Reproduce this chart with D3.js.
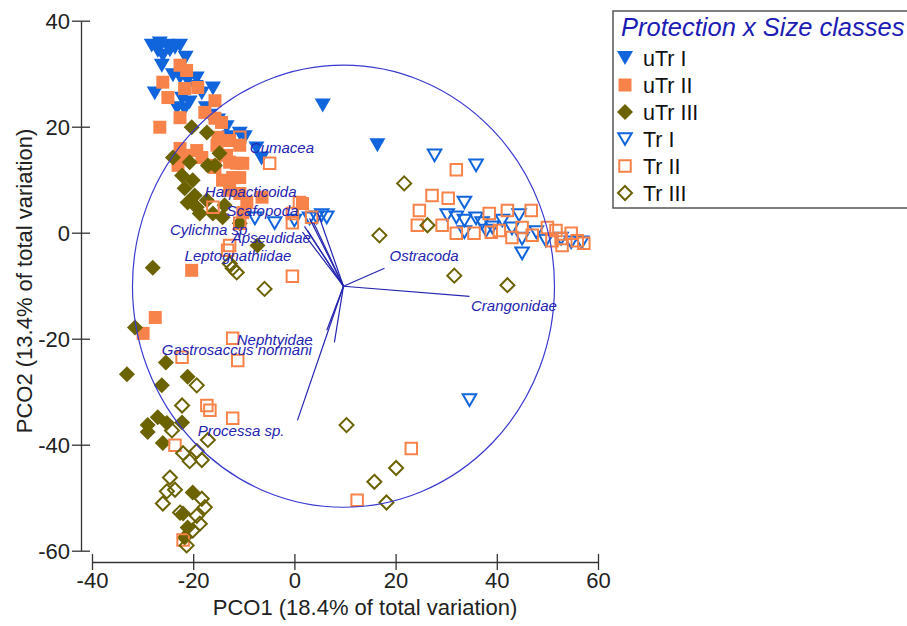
<!DOCTYPE html>
<html lang="en">
<head>
  <meta charset="utf-8">
  <script src="https://cdn.jsdelivr.net/npm/d3@7"></script>
</head>
<style>
  body{margin:0;background:#fff;}
  text{font-family:"Liberation Sans",Arial,sans-serif;}
</style>
<body>
  <div id="chart"></div>
  <script type="text/javascript">
    // PCO scores, [PCO1, PCO2]
    var uTrI=[[-28.2,35.3],[-26.6,35.7],[-25.2,35.3],[-23.6,34.9],[-22.6,35.3],[-27.0,34.3],[-26.0,33.4],[-24.6,34.4],
      [-21.5,33.0],[-26.2,31.5],[-24.0,29.7],[-22.6,29.3],[-21.1,28.7],[-19.3,29.1],[-27.6,26.3],[-22.2,25.3],
      [-20.7,24.6],[-18.3,26.3],[-16.1,27.2],[-19.5,27.5],[-23.2,23.5],[-21.7,23.3],[-17.5,23.5],[-16.7,22.1],
      [-15.1,21.2],[-13.4,19.9],[-12.8,18.0],[-10.8,18.7],[-9.8,18.0],[-7.5,15.9],[-6.5,14.0],[5.6,24.0],[16.4,16.5]];
    var uTrII=[[-22.6,31.6],[-21.3,30.6],[-26.0,28.4],[-25.0,25.5],[-21.7,27.2],[-19.1,27.4],[-22.6,21.7],[-26.6,19.9],
      [-15.7,24.9],[-17.7,22.7],[-15.7,21.6],[-14.4,20.8],[-15.1,18.0],[-12.8,17.4],[-10.8,16.5],[-21.7,14.6],
      [-18.3,14.2],[-12.8,13.3],[-10.2,13.1],[-23.0,12.7],[-16.3,12.7],[-22.6,15.9],[-19.3,15.5],[-15.3,16.5],
      [-13.4,14.6],[-11.4,13.1],[-15.7,12.3],[-14.2,9.9],[-12.2,10.4],[-10.8,10.4],[-12.8,8.0],[-10.8,7.4],
      [-9.4,5.7],[-10.2,3.8],[-6.4,6.7],[1.6,5.5],[-20.3,-7.1],[-27.5,-16.0],[-29.9,-19.0]];
    var uTrIII=[[-20.3,19.9],[-17.3,18.9],[-24.0,14.2],[-20.7,13.3],[-14.8,15.0],[-17.1,12.7],[-15.7,12.7],[-22.2,10.8],
      [-20.1,9.9],[-21.7,8.4],[-19.7,7.0],[-21.1,5.7],[-19.3,4.8],[-17.3,6.1],[-16.1,3.6],[-14.2,2.9],[-18.7,3.6],
      [-13.8,5.2],[-10.8,1.8],[-7.3,-2.4],[-28.0,-6.6],[-31.5,-17.9],[-33.1,-26.7],[-25.4,-24.5],[-21.1,-27.2],
      [-26.2,-28.8],[-27.0,-34.8],[-29.0,-36.3],[-25.2,-35.9],[-22.2,-35.8],[-26.0,-39.7],[-29.0,-37.6],
      [-20.1,-49.0],[-22.0,-53.0],[-21.1,-55.6],[-21.7,-57.5]];
    var TrI=[[-7.8,2.7],[-3.9,1.8],[0.0,2.3],[3.0,2.7],[4.4,2.9],[5.4,3.3],[6.4,2.9],[27.7,14.6],[35.9,12.7],
      [33.6,5.7],[30.2,3.3],[32.0,2.9],[33.6,2.3],[35.9,2.7],[37.1,1.8],[39.1,1.0],[41.1,2.3],[44.4,3.3],
      [43.0,0.8],[45.0,-1.1],[47.8,0.1],[49.7,-1.5],[45.0,-3.9],[52.7,-1.1],[54.7,-1.8],[56.8,-1.8],
      [33.6,0.1],[37.9,0.4],[34.6,-31.6]];
    var TrII=[[-10.8,18.0],[-4.9,13.1],[-16.1,4.8],[-10.8,1.8],[-12.8,-2.4],[-0.4,1.9],[-0.4,-8.2],[1.0,5.7],
      [-0.4,3.6],[3.4,2.9],[-13.2,-3.3],[-12.2,-19.9],[-11.2,-24.1],[-22.2,-23.5],[-17.3,-32.6],[-16.7,-33.5],
      [-12.2,-35.0],[-23.6,-40.1],[-22.0,-58.0],[23.1,-40.7],[12.4,-50.5],
      [32.0,11.9],[27.2,7.0],[30.4,6.5],[24.7,4.2],[24.3,1.4],[29.2,1.4],[32.0,-0.1],[35.5,-0.1],[38.5,3.6],
      [42.1,4.2],[46.8,4.2],[38.9,0.1],[40.5,0.4],[43.0,-0.9],[45.0,1.0],[47.0,-0.5],[50.0,1.0],[51.7,0.4],
      [52.7,-1.1],[54.7,-0.1],[55.9,-1.5],[57.2,-2.0],[50.9,-1.5],[52.9,-2.4]];
    var TrIII=[[-12.8,-5.8],[-12.2,-6.7],[-11.4,-7.5],[-5.9,-10.6],[-19.3,-28.8],[-22.2,-32.6],[-17.1,-39.1],
      [-24.2,-37.3],[-22.0,-41.6],[-19.3,-41.2],[-20.7,-43.1],[-18.3,-42.9],[-24.6,-46.2],[-23.6,-48.5],
      [-25.2,-48.8],[-26.0,-51.1],[-18.3,-50.2],[-17.7,-51.8],[-22.6,-52.8],[-19.3,-53.4],[-18.7,-54.9],
      [-20.1,-56.2],[-21.3,-59.0],[16.8,-0.5],[31.6,-8.1],[10.3,-36.3],[20.1,-44.4],[15.8,-47.0],[18.2,-50.9],
      [21.7,9.3],[26.3,1.4],[42.1,-9.9]];

    // vector overlay
    var vectorOrigin=[9.7,-10.1];
    var circleRadius=41.7;
    var vectorNames=["Cumacea","Harpacticoida","Scafopoda","Cylichna sp.","Apseudidae","Leptognathiidae",
      "Ostracoda","Crangonidae","Nephtyidae","Gastrosaccus normani","Processa sp."];
    var vectorEnds=[[4.6,3.8],[3.0,2.7],[3.8,1.9],[2.0,1.2],[2.6,0.4],[1.6,0.1],
      [17.8,-6.7],[34.6,-12.0],[6.4,-18.4],[7.9,-20.7],[0.6,-35.4]];
    var labelPos=[[-8.8,15.1],[-17.7,6.7],[-13.4,3.1],[-24.6,-0.5],[-12.4,-2.0],[-21.7,-5.4],
      [18.8,-5.4],[34.9,-14.7],[-11.4,-21.2],[-26.2,-23.1],[-19.1,-38.4]];

    var xTicks=[-40,-20,0,20,40,60];
    var yTicks=[-60,-40,-20,0,20,40];
    var legendTitle="Protection x Size classes";

    var blue="#1064dc", orange="#f8834a", olive="#6b6200";
    var vecColor="#2424b0";

    var series=[
      {name:"uTr I",data:uTrI,shape:"tri",color:blue,filled:true},
      {name:"uTr II",data:uTrII,shape:"sq",color:orange,filled:true},
      {name:"uTr III",data:uTrIII,shape:"dia",color:olive,filled:true},
      {name:"Tr I",data:TrI,shape:"tri",color:blue,filled:false},
      {name:"Tr II",data:TrII,shape:"sq",color:orange,filled:false},
      {name:"Tr III",data:TrIII,shape:"dia",color:olive,filled:false}
    ];

    var width=907, height=626;

    var svg=d3.select("#chart")
      .append("svg")
      .attr("width",width)
      .attr("height",height);

    var x=d3.scaleLinear().domain([-40,60]).range([92,598]);
    var y=d3.scaleLinear().domain([-60,40]).range([550.7,20.7]);

    function shapePath(shape,filled){
      if(shape=="tri"){
        var s=filled?16:13.5, h=s*0.866;
        return "M"+(-s/2)+","+(-h/2)+"L"+(s/2)+","+(-h/2)+"L0,"+(h/2)+"Z";
      }
      if(shape=="sq"){
        var s=filled?13:11.5;
        return "M"+(-s/2)+","+(-s/2)+"h"+s+"v"+s+"h"+(-s)+"Z";
      }
      var r=filled?8:7;
      return "M0,"+(-r)+"L"+r+",0L0,"+r+"L"+(-r)+",0Z";
    }

    //Points
    series.forEach(function(s){
      svg.append("g")
        .selectAll("path")
        .data(s.data)
        .enter()
        .append("path")
        .attr("d",shapePath(s.shape,s.filled))
        .attr("transform",function(d){return "translate("+x(d[0])+","+y(d[1])+")";})
        .attr("fill",s.filled?s.color:"none")
        .attr("stroke",s.filled?"none":s.color)
        .attr("stroke-width",2);
    });

    //Correlation circle
    svg.append("ellipse")
      .attr("cx",x(vectorOrigin[0]))
      .attr("cy",y(vectorOrigin[1]))
      .attr("rx",x(vectorOrigin[0]+circleRadius)-x(vectorOrigin[0]))
      .attr("ry",y(vectorOrigin[1])-y(vectorOrigin[1]+circleRadius))
      .attr("fill","none")
      .attr("stroke","#3a3ad0")
      .attr("stroke-width",1.2);

    svg.append("g")
      .selectAll("line")
      .data(vectorEnds)
      .enter()
      .append("line")
      .attr("x1",x(vectorOrigin[0]))
      .attr("y1",y(vectorOrigin[1]))
      .attr("x2",function(d){return x(d[0]);})
      .attr("y2",function(d){return y(d[1]);})
      .attr("stroke",vecColor)
      .attr("stroke-width",1.2);

    svg.append("g")
      .selectAll("text")
      .data(vectorNames)
      .enter()
      .append("text")
      .attr("x",function(d,i){return x(labelPos[i][0]);})
      .attr("y",function(d,i){return y(labelPos[i][1]);})
      .style("font-size","15px")
      .style("font-style","italic")
      .attr("fill",vecColor)
      .text(function(d){return d;});

    //Axes (plain hyphen minus, as in the original)
    var fmt=function(d){return String(d);};

    var xAxis=svg.append("g")
      .attr("transform","translate(0,562)")
      .call(d3.axisBottom(x).tickValues(xTicks).tickSizeOuter(0).tickSizeInner(8).tickFormat(fmt));
    xAxis.selectAll(".tick line").attr("y1",-8).attr("y2",8);
    xAxis.selectAll(".tick text").attr("y",10).attr("dy","0.71em");

    var yAxis=svg.append("g")
      .attr("transform","translate(81,0)")
      .call(d3.axisLeft(y).tickValues(yTicks).tickSizeOuter(0).tickSizeInner(9).tickFormat(fmt));
    yAxis.selectAll(".tick line").attr("x1",-9).attr("x2",9);
    yAxis.selectAll(".tick text").attr("x",-11).attr("dy","0.34em");

    svg.selectAll(".domain, .tick line").attr("stroke","#333").attr("stroke-width",1.3);
    svg.selectAll(".tick text")
      .style("font-size","22px")
      .style("font-family","'Liberation Sans',Arial,sans-serif")
      .attr("fill","#222");

    svg.append("text")
      .attr("x",365)
      .attr("y",615)
      .attr("text-anchor","middle")
      .style("font-size","22px")
      .attr("fill","#222")
      .text("PCO1 (18.4% of total variation)");

    svg.append("text")
      .attr("transform","translate(32,281) rotate(-90)")
      .attr("text-anchor","middle")
      .style("font-size","22px")
      .attr("fill","#222")
      .text("PCO2 (13.4% of total variation)");

    //Legend
    var legend=svg.append("g").attr("transform","translate(613,11)");
    legend.append("rect")
      .attr("width",330)
      .attr("height",197)
      .attr("fill","#fff")
      .attr("stroke","#555")
      .attr("stroke-width",1.5);
    legend.append("text")
      .attr("x",8)
      .attr("y",25)
      .style("font-size","25.5px")
      .style("font-style","italic")
      .attr("fill","#1c1cb4")
      .text(legendTitle);

    var rows=legend.selectAll(".row")
      .data(series)
      .enter()
      .append("g")
      .attr("class","row")
      .attr("transform",function(d,i){return "translate(12,"+(47+i*27)+")";});
    rows.append("path")
      .attr("d",function(d){return shapePath(d.shape,d.filled);})
      .attr("fill",function(d){return d.filled?d.color:"none";})
      .attr("stroke",function(d){return d.filled?"none":d.color;})
      .attr("stroke-width",2);
    rows.append("text")
      .attr("x",18)
      .attr("dy","0.36em")
      .style("font-size","21.5px")
      .attr("fill","#111")
      .text(function(d){return d.name;});
  </script>
</body>
</html>
